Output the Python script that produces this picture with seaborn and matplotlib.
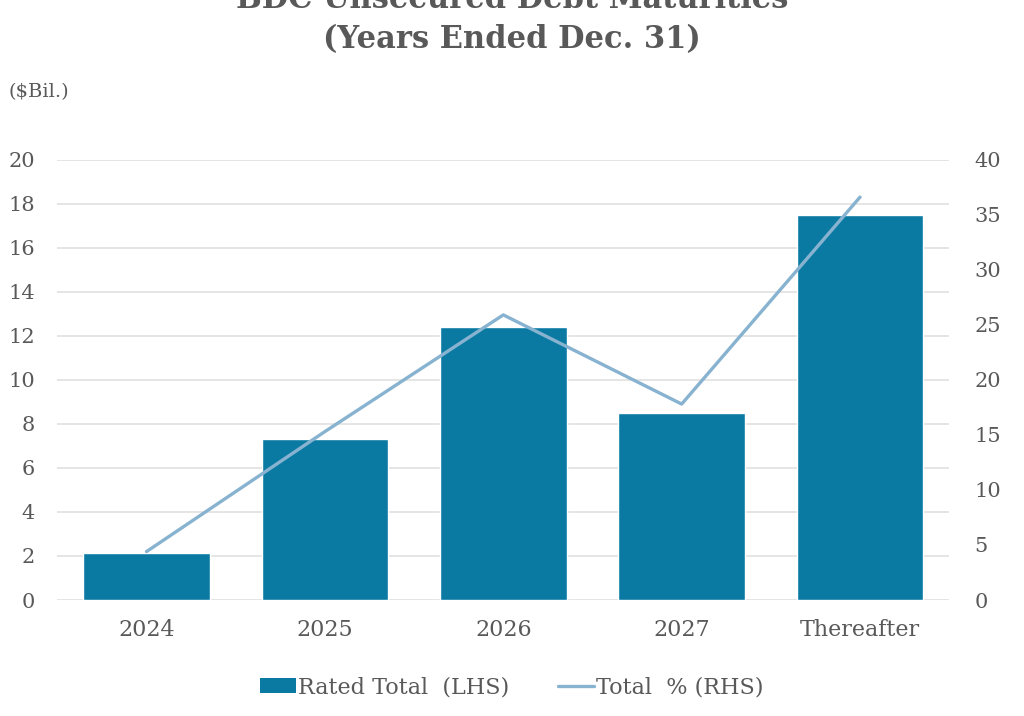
import seaborn as sns
import matplotlib.pyplot as plt
import numpy as np
import pandas as pd
from matplotlib.patches import Patch
from matplotlib.lines import Line2D

categories = ["2024", "2025", "2026", "2027", "Thereafter"]
rated_total = [2.15, 7.3, 12.4, 8.5, 17.5]
total_pct = [4.4, 15.3, 25.9, 17.8, 36.6]

bar_color = "#0a7aa3"
line_color = "#88b3d0"
text_color = "#595959"

sns.set_style("white")
plt.rcParams['font.family'] = ['DejaVu Serif']

df = pd.DataFrame({"year": categories, "total": rated_total, "pct": total_pct})

fig = plt.figure(figsize=(10.24, 7.16), dpi=100)
ax = fig.add_axes([0.056, 0.162, 0.871, 0.615])

sns.barplot(data=df, x="year", y="total", color=bar_color, width=0.71, saturation=1, ax=ax, zorder=2)
ax.set_ylim(0, 20)
ax.set_yticks(range(0, 21, 2))
ax.yaxis.grid(True, color="#dedede", linewidth=1.1, zorder=0)
ax.set_axisbelow(True)
ax.set_xlabel("")
ax.set_ylabel("")
ax.tick_params(axis="x", length=0, labelsize=16, labelcolor=text_color, pad=14)
ax.tick_params(axis="y", length=0, labelsize=15, labelcolor=text_color, pad=16)
ax.set_xlim(-0.5, 4.5)

ax2 = ax.twinx()
sns.lineplot(x=np.arange(len(categories)), y=df["pct"], color=line_color, linewidth=2.4, ax=ax2)
ax2.set_ylim(0, 40)
ax2.set_yticks(range(0, 41, 5))
ax2.set_ylabel("")
ax2.tick_params(axis="y", length=0, labelsize=15, labelcolor=text_color, pad=18)

for a in (ax, ax2):
    for s in a.spines.values():
        s.set_visible(False)

fig.text(0.5, 1.0, "BDC Unsecured Debt Maturities", ha="center", va="center",
         fontsize=22, fontweight="bold", color=text_color)
fig.text(0.5, 0.945, "(Years Ended Dec. 31)", ha="center", va="center",
         fontsize=22, fontweight="bold", color=text_color)
fig.text(0.008, 0.872, "($Bil.)", ha="left", va="center", fontsize=14, color=text_color)

handles = [Patch(facecolor=bar_color, edgecolor="none"),
           Line2D([0], [0], color=line_color, linewidth=2.4)]
fig.legend(handles, ["Rated Total  (LHS)", "Total  % (RHS)"], loc="center",
           bbox_to_anchor=(0.5, 0.04), ncol=2, frameon=False, fontsize=16,
           labelcolor=text_color, handlelength=1.6, handletextpad=0.1, columnspacing=2.2)

fig.savefig("out.png", dpi=100, facecolor="white")
